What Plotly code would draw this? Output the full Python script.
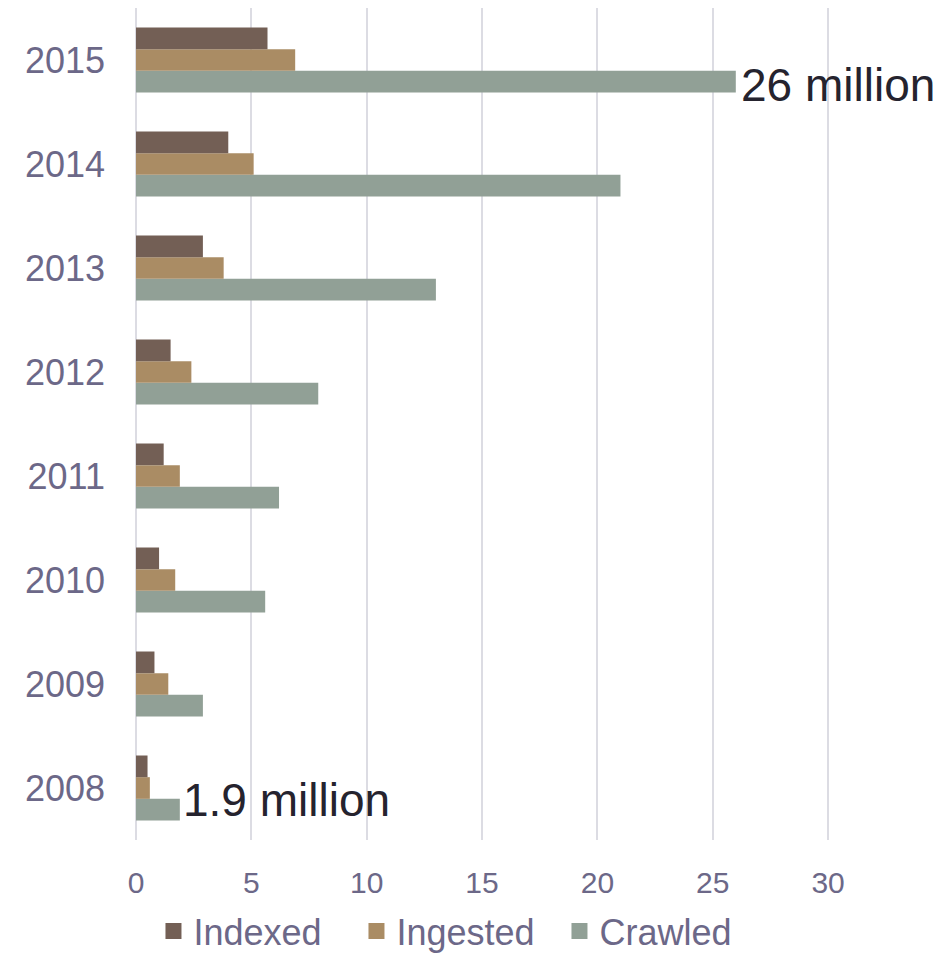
import plotly.graph_objects as go

years = ["2008", "2009", "2010", "2011", "2012", "2013", "2014", "2015"]
indexed = [0.5, 0.8, 1.0, 1.2, 1.5, 2.9, 4.0, 5.7]
ingested = [0.6, 1.4, 1.7, 1.9, 2.4, 3.8, 5.1, 6.9]
crawled = [1.9, 2.9, 5.6, 6.2, 7.9, 13.0, 21.0, 26.0]
x_ticks = [0, 5, 10, 15, 20, 25, 30]

font_family = "Liberation Sans, Arial, sans-serif"
label_color = "#6c6888"
colors = {"Indexed": "#735f55", "Ingested": "#aa8c64", "Crawled": "#91a096"}

fig = go.Figure()
for name, vals in [("Crawled", crawled), ("Ingested", ingested), ("Indexed", indexed)]:
    fig.add_trace(go.Bar(y=years, x=vals, name=name, orientation="h", showlegend=False,
                         marker=dict(color=colors[name], line=dict(width=0))))
# legend entries with larger square swatches
for name in ["Crawled", "Ingested", "Indexed"]:
    fig.add_trace(go.Scatter(x=[None], y=[None], mode="markers", name=name,
                             marker=dict(symbol="square", size=20, color=colors[name])))

fig.add_annotation(x=crawled[-1], y=len(years) - 1, text="26 million", showarrow=False,
                   xanchor="left", yanchor="middle", xshift=3, yshift=-25,
                   font=dict(size=46, color="#25232e", family=font_family))
fig.add_annotation(x=crawled[0], y=0, text="1.9 million", showarrow=False,
                   xanchor="left", yanchor="middle", xshift=1, yshift=-12,
                   font=dict(size=46, color="#25232e", family=font_family))

fig.update_layout(
    width=951, height=958,
    margin=dict(l=136, r=116, t=8, b=118, autoexpand=False),
    barmode="group", bargap=0.375, bargroupgap=0,
    plot_bgcolor="white", paper_bgcolor="white",
    font=dict(family=font_family, color=label_color),
    showlegend=True,
    legend=dict(orientation="h", traceorder="reversed", x=0.025, xanchor="left",
                yref="container", y=0.028, yanchor="middle",
                font=dict(size=36, color=label_color), itemwidth=30,
                entrywidth=158, entrywidthmode="pixels"),
)
fig.update_xaxes(range=[0, 30.3], tickvals=x_ticks, showgrid=True, gridcolor="#dcdce3",
                 gridwidth=2, zeroline=True, zerolinecolor="#dcdce3", zerolinewidth=2,
                 showline=False, ticks="", tickfont=dict(size=30, color=label_color),
                 ticklabelstandoff=22)
fig.update_yaxes(type="category", categoryorder="array", categoryarray=years,
                 range=[-0.5, len(years) - 0.5], autorange=False,
                 showgrid=False, showline=False, ticks="",
                 tickfont=dict(size=36, color=label_color), ticklabelstandoff=30)

fig.write_html("out.html")
